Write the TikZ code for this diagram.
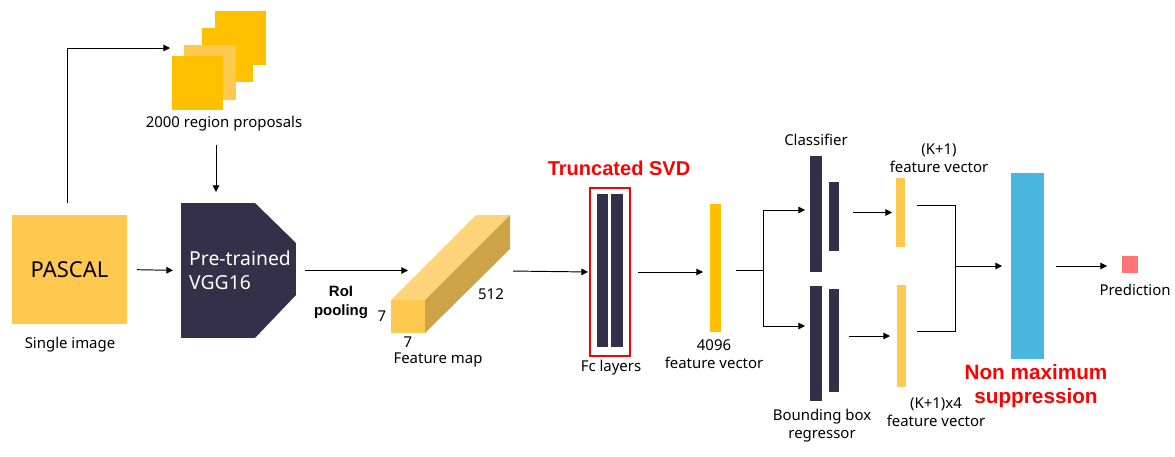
\documentclass[tikz,border=0pt]{standalone}
\usepackage{fontspec}
\setmainfont{Noto Sans}
\newfontfamily\heavyfont{Liberation Sans}
\usepackage{tikz}
\usetikzlibrary{positioning}
\usetikzlibrary{arrows.meta}
\definecolor{gold}{HTML}{FFC000}
\definecolor{sand}{HTML}{FFC94F}
\definecolor{sandtop}{HTML}{FDD47A}
\definecolor{sandside}{HTML}{CCA346}
\definecolor{navy}{HTML}{34304A}
\definecolor{sky}{HTML}{4AB5DE}
\definecolor{salmon}{HTML}{FF7575}
\tikzset{% boxes, labels and arrows
        blk/.style={inner sep=0pt, outer sep=0pt},
        bar/.style={blk, fill=#1},
        sz/.style 2 args={minimum width=#1, minimum height=#2},
        lbl/.style={font=\fontsize{8.5}{10.3}\selectfont, align=center, inner sep=0pt},
        redlbl/.style={font=\fontsize{11.4}{13.7}\selectfont\heavyfont\bfseries, text=red, align=center, inner sep=0pt},
        arr/.style={-{Triangle[length=3.8pt,width=3.8pt]}, line width=0.55pt},
        line/.style={line width=0.55pt}
        }

\begin{document}
\begin{tikzpicture}[x=0.02cm, y=-0.02cm]
\useasboundingbox (0,0) rectangle (1175,456);
% input and proposals
\node[bar=sand, sz={2.3cm}{2.18cm}, font=\fontsize{12.5}{15}\selectfont] (pascal) at (69.5,269.5) {PASCAL};
\node[lbl] (tsingle) at (70,345) {Single image};
\node[bar=gold, sz={1.02cm}{1.08cm}] (rp4) at (240.5,38) {};
\node[bar=gold, sz={1.02cm}{1.08cm}] (rp3) at (227.5,55) {};
\node[bar=sand, sz={1.04cm}{1.1cm}] (rp2) at (210,72.5) {};
\node[bar=gold, sz={1.02cm}{1.08cm}] (rp1) at (197.5,83) {};
\node[lbl] (trp) at (224,124) {2000 region proposals};
\coordinate (rpin) at (170,48);
% backbone
\node[blk, sz={2.3cm}{2.7cm}] (vgg) at (238.5,270.5) {};
\fill[navy] (vgg.south west) -- (vgg.north west) -- ([xshift=-0.82cm]vgg.north east)
  -- ([yshift=-0.8cm]vgg.north east) -- ([yshift=0.86cm]vgg.south east)
  -- ([xshift=-0.82cm]vgg.south east) -- cycle;
\node[lbl, text=white, align=left, font=\fontsize{11}{13.7}\selectfont] (tvgg) at ([xshift=0.03cm]vgg) {Pre-trained\\VGG16};
\draw[arr, shorten <=0.24cm] ([xshift=-0.05cm]pascal.north) |- (rpin);
\draw[arr, shorten <=0.26cm, shorten >=0.22cm] ([xshift=-0.16cm]trp.south) -- ([xshift=-0.16cm]trp.south |- vgg.north);
\draw[arr, shorten <=0.2cm, shorten >=0.16cm] (pascal.east) -- (vgg.west);
% feature map
\node[bar=sand, sz={0.68cm}{0.66cm}] (fmfront) at (408,316.5) {};
\fill[sandtop] (fmfront.north west) -- ++(85,-85) -- ++(34,0) -- (fmfront.north east) -- cycle;
\fill[sandside] (fmfront.north east) -- ++(85,-85) -- ++(0,34) -- (fmfront.south east) -- cycle;
\coordinate (fmback) at (510,271);
\node[lbl] (d7a) at (382,316) {7};
\node[lbl] (d7b) at (408,342) {7};
\node[lbl] (d512) at (491,294) {512};
\node[lbl] (tfmap) at (438,360) {Feature map};
\node[lbl, font=\fontsize{8.5}{10.8}\selectfont\heavyfont\bfseries] (tpool) at (341,302) {RoI\\pooling};
\draw[arr, shorten <=0.18cm] (vgg.east) -- (vgg.east -| fmfront.north);
% fc layers
\node[blk, draw=red, line width=1.2pt, sz={0.8cm}{3.36cm}] (fc) at (610,272) {};
\node[bar=navy, sz={0.22cm}{3.06cm}] (fc1) at (602.5,270.5) {};
\node[bar=navy, sz={0.24cm}{3.06cm}] (fc2) at (617,270.5) {};
\node[redlbl] (tsvd) at (619,168) {Truncated SVD};
\node[lbl] (tfc) at (611,368) {Fc layers};
\draw[arr, shorten <=0.06cm, shorten >=0.04cm] (fmback) -- (fc.west);
\node[bar=gold, sz={0.22cm}{2.56cm}] (v4096) at (715.5,268) {};
\node[lbl] (t4096) at (714,354) {4096\\feature vector};
\draw[arr, shorten <=0.16cm, shorten >=0.14cm] (fc.east) -- (fc.east -| v4096.west);
% heads
\node[bar=navy, sz={0.24cm}{2.32cm}] (cls1) at (816,214) {};
\node[bar=navy, sz={0.2cm}{1.38cm}] (cls2) at (834,216.5) {};
\node[bar=navy, sz={0.24cm}{2.3cm}] (bb1) at (816,343.5) {};
\node[bar=navy, sz={0.2cm}{2.06cm}] (bb2) at (833.5,340.5) {};
\node[lbl] (tcls) at (816,140) {Classifier};
\node[lbl] (tbbox) at (822,426) {Bounding box\\regressor};
\coordinate (split) at (763,270);
\draw[line] (v4096.east |- split) ++(0.3cm,0) -- (split);
\draw[arr, shorten >=0.1cm] (split) |- ([yshift=0.08cm]cls1.west);
\draw[arr, shorten >=0.1cm] (split) |- ([yshift=0.35cm]bb1.west);
\node[bar=sand, sz={0.18cm}{1.38cm}] (kv1) at (900.5,212.5) {};
\node[bar=sand, sz={0.18cm}{2.04cm}] (kv2) at (901.5,336) {};
\node[lbl] (tk1) at (939,158) {(K+1)\\feature vector};
\node[lbl] (tk4) at (936,412) {(K+1)x4\\feature vector};
\draw[arr, shorten <=0.28cm, shorten >=0.08cm] (cls2.east |- kv1.west) -- (kv1.west);
\draw[arr, shorten <=0.2cm, shorten >=0.14cm] (bb2.east |- kv2.west) -- (kv2.west);
% nms and prediction
\node[bar=sky, sz={0.66cm}{3.72cm}] (nms) at (1027.5,266) {};
\node[redlbl, font=\fontsize{11.8}{13.7}\selectfont\heavyfont\bfseries] (tnms) at (1036,386) {Non maximum\\suppression};
\coordinate (merge) at (955,266);
\draw[line] ([xshift=0.24cm,yshift=0.15cm]kv1.east) -| (merge);
\draw[line] ([xshift=0.22cm,yshift=0.1cm]kv2.east) -| (merge);
\draw[arr, shorten >=0.18cm] (merge) -- (nms.west);
\node[bar=salmon, sz={0.32cm}{0.34cm}] (pred) at (1130,264.5) {};
\node[lbl] (tpred) at (1135,290) {Prediction};
\draw[arr, shorten <=0.24cm, shorten >=0.3cm] (nms.east) -- (nms.east -| pred.west);
\end{tikzpicture}
\end{document}
